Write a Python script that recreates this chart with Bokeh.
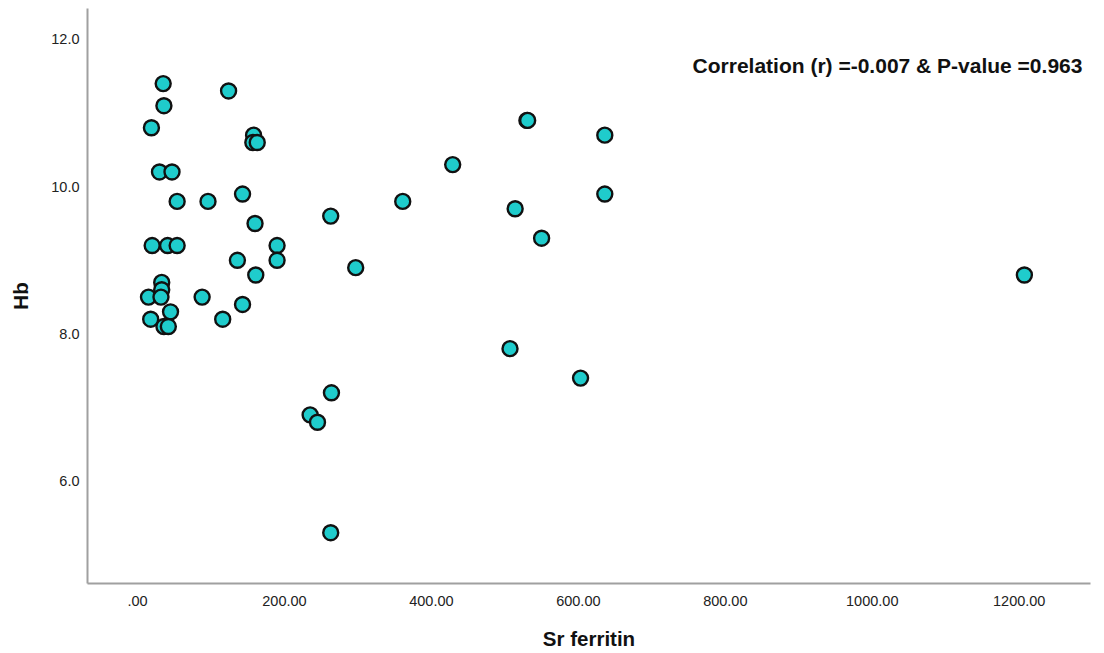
from bokeh.plotting import figure
from bokeh.models import ColumnDataSource, Range1d, FixedTicker, Label
from bokeh.embed import file_html
from bokeh.resources import INLINE

# Data
sr_ferritin = [35, 36, 19, 124, 158, 157, 163, 30, 47, 54, 96, 143, 160,
               20, 41, 54, 190, 190, 136, 161, 33, 33, 15, 32, 88, 143,
               45, 18, 116, 36, 42, 530, 531, 429, 361, 514, 550, 263,
               297, 507, 603, 264, 235, 245, 263, 636, 636, 1207]
hb = [11.4, 11.1, 10.8, 11.3, 10.7, 10.6, 10.6, 10.2, 10.2, 9.8, 9.8, 9.9, 9.5,
      9.2, 9.2, 9.2, 9.2, 9.0, 9.0, 8.8, 8.7, 8.6, 8.5, 8.5, 8.5, 8.4,
      8.3, 8.2, 8.2, 8.1, 8.1, 10.9, 10.9, 10.3, 9.8, 9.7, 9.3, 9.6,
      8.9, 7.8, 7.4, 7.2, 6.9, 6.8, 5.3, 10.7, 9.9, 8.8]

x_ticks = [0, 200, 400, 600, 800, 1000, 1200]
x_tick_labels = [".00", "200.00", "400.00", "600.00", "800.00", "1000.00", "1200.00"]
y_ticks = [6, 8, 10, 12]
y_tick_labels = ["6.0", "8.0", "10.0", "12.0"]
annotation = "Correlation (r) =-0.007 & P-value =0.963"

FONT = "Liberation Sans"

p = figure(width=1104, height=653, output_backend="svg", toolbar_location=None,
           x_range=Range1d(-68, 1297), y_range=Range1d(4.61, 12.42),
           min_border_left=87, min_border_right=14, min_border_top=8,
           min_border_bottom=70)
p.outline_line_color = None
p.xgrid.visible = False
p.ygrid.visible = False
p.background_fill_color = "white"
p.border_fill_color = "white"

src = ColumnDataSource(dict(x=sr_ferritin, y=hb))
p.scatter("x", "y", source=src, size=15, fill_color="#1fcccc",
          line_color="#111111", line_width=2.4)

for ax in (p.xaxis[0], p.yaxis[0]):
    ax.axis_line_color = "#a0a0a0"
    ax.axis_line_width = 2
    ax.major_tick_line_color = None
    ax.minor_tick_line_color = None
    ax.major_tick_out = 0
    ax.major_tick_in = 0
    ax.minor_tick_out = 0
    ax.major_label_text_font = FONT
    ax.major_label_text_font_size = "14.5px"
    ax.major_label_text_color = "#222222"
    ax.axis_label_text_font = FONT
    ax.axis_label_text_font_style = "bold"
    ax.axis_label_text_font_size = "20.5px"
    ax.axis_label_text_color = "#111111"

p.xaxis.ticker = FixedTicker(ticks=x_ticks)
p.xaxis.major_label_overrides = {t: l for t, l in zip(x_ticks, x_tick_labels)}
p.yaxis.ticker = FixedTicker(ticks=y_ticks)
p.yaxis.major_label_overrides = {t: l for t, l in zip(y_ticks, y_tick_labels)}

p.xaxis.axis_label = "Sr ferritin"
p.yaxis.axis_label = "Hb"
p.xaxis.major_label_standoff = 12
p.xaxis.axis_label_standoff = 18
p.yaxis.major_label_standoff = 8
p.yaxis.axis_label_standoff = 16

p.add_layout(Label(x=1286, y=11.65, text=annotation, text_align="right",
                   text_baseline="middle", text_font=FONT,
                   text_font_style="bold", text_font_size="21px",
                   text_color="#111111"))

open("out.html", "w").write(file_html(p, INLINE))
